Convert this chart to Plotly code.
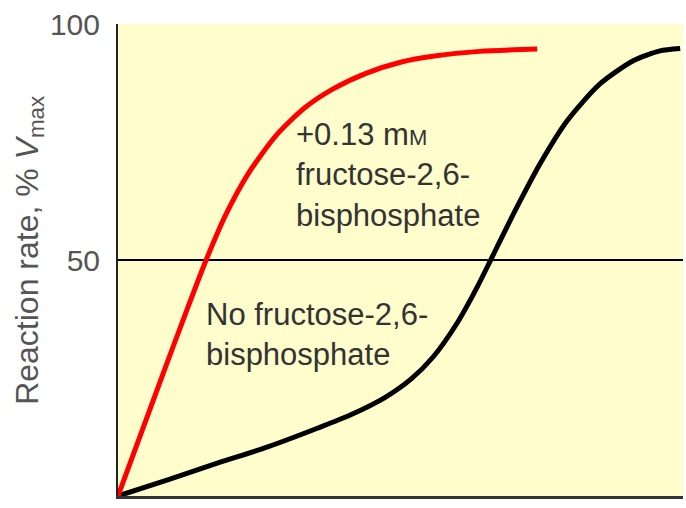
import plotly.graph_objects as go

# Substrate concentration (arbitrary units) and reaction rate (% of Vmax)
x_with_f26bp = [0, 0.8, 1.2, 1.56, 1.9, 2.3, 2.8, 3.3, 3.8, 4.4, 5.0, 5.6, 6.4, 7.42]
rate_with_f26bp = [0, 26.0, 38.8, 50.0, 59.4, 68.2, 76.4, 82.2, 86.2, 89.6, 91.9, 93.2, 94.2, 94.7]

x_no_f26bp = [0, 0.88, 1.77, 2.65, 3.54, 4.12, 4.73, 5.19, 5.58, 6.00, 6.35, 6.58,
              6.76, 7.06, 7.47, 7.95, 8.53, 9.12, 9.59, 9.95]
rate_no_f26bp = [0, 3.4, 7.0, 10.4, 14.4, 17.2, 20.9, 24.8, 29.5, 36.6, 44.1, 49.6,
                 54.0, 61.2, 70.4, 79.5, 87.3, 92.2, 94.3, 94.8]

y_ticks = [50, 100]
y_tick_labels = ["50", "100"]

FONT = "Liberation Sans, Arial, Helvetica, sans-serif"

fig = go.Figure()

fig.add_trace(go.Scatter(
    x=x_no_f26bp, y=rate_no_f26bp, mode="lines",
    line=dict(color="#000000", width=5, shape="spline", smoothing=0.7),
    hoverinfo="skip", showlegend=False,
))
fig.add_trace(go.Scatter(
    x=x_with_f26bp, y=rate_with_f26bp, mode="lines",
    line=dict(color="#ff0000", width=5, shape="spline", smoothing=0.7),
    hoverinfo="skip", showlegend=False,
))

# Half-maximal reference line
fig.add_shape(type="line", xref="paper", x0=0, x1=1, yref="y", y0=50, y1=50,
              line=dict(color="#000000", width=2), layer="below")

fig.add_annotation(
    x=3.12, y=68.0, xanchor="left", yanchor="middle", align="left", showarrow=False,
    text="+0.13 m<span style=\"font-size:22px\">M</span><br>fructose-2,6-<br>bisphosphate",
    font=dict(family=FONT, size=31, color="#333333"),
)
fig.add_annotation(
    x=1.52, y=34.3, xanchor="left", yanchor="middle", align="left", showarrow=False,
    text="No fructose-2,6-<br>bisphosphate",
    font=dict(family=FONT, size=31, color="#333333"),
)

# Rotated y-axis title
fig.add_annotation(
    xref="paper", yref="paper", x=-0.157, y=0.52, xanchor="center", yanchor="middle",
    textangle=-90, showarrow=False,
    text="Reaction rate, % <i>V</i><sub>max</sub>",
    font=dict(family=FONT, size=32, color="#555555"),
)

fig.update_layout(
    width=686, height=508,
    margin=dict(l=118, r=3, t=24, b=12),
    paper_bgcolor="#ffffff",
    plot_bgcolor="#fffdcc",
    font=dict(family=FONT),
    xaxis=dict(range=[0, 10], showgrid=False, zeroline=False, showticklabels=False,
               ticks="", showline=True, linecolor="#333333", linewidth=3),
    yaxis=dict(range=[0, 100], showgrid=False, zeroline=False,
               tickvals=y_ticks, ticktext=y_tick_labels, ticks="",
               ticklabelstandoff=10,
               tickfont=dict(family=FONT, size=30, color="#555555"),
               showline=True, linecolor="#222222", linewidth=2),
)

fig.write_html("out.html")
